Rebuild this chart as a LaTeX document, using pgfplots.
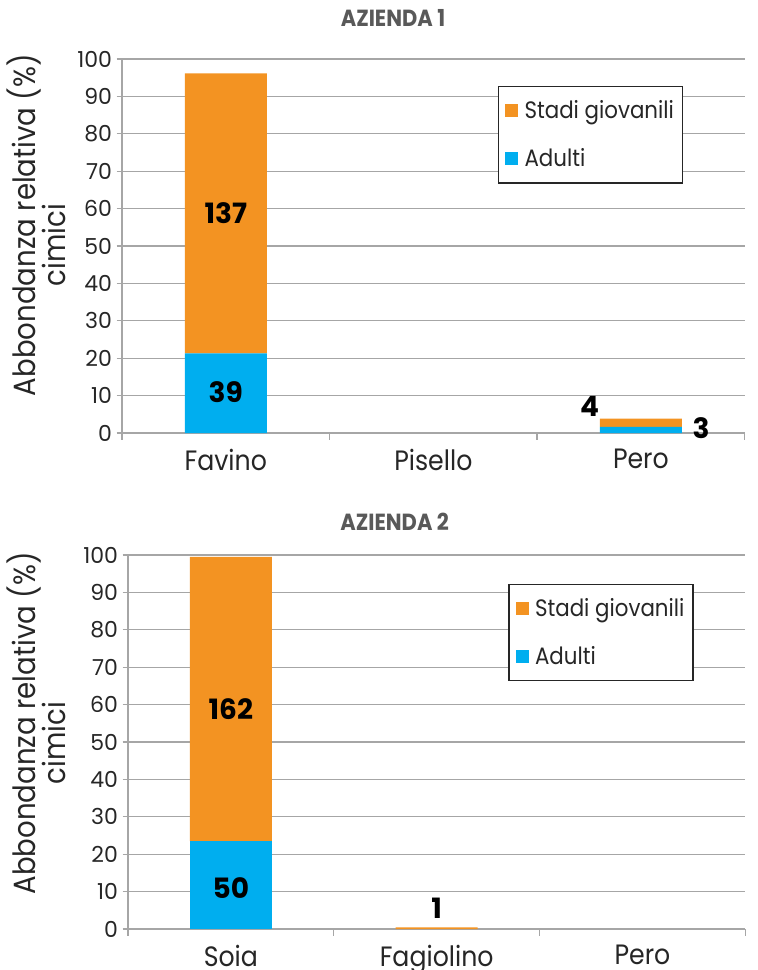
\documentclass[border=0pt]{standalone}
\usepackage{pgfplots}
\pgfplotsset{compat=1.18}
\usepackage{pgfplotstable}
\usepackage{fontspec}
\setmainfont{Poppins}[FakeStretch=0.9]
\newfontfamily\largo{Poppins}

\definecolor{arancio}{HTML}{F39322}
\definecolor{azzurro}{HTML}{00AEEF}
\definecolor{griglia}{HTML}{A6A6A6}
\definecolor{testo}{HTML}{262626}
\definecolor{titolo}{HTML}{595959}

% percentuali (conteggi scritti sulle barre)
\pgfplotstableread{
x adulti giovanili
0 21.31 74.86
1 0 0
2 1.64 2.19
}\aziendaA
\pgfplotstableread{
x adulti giovanili
0 23.47 76.06
1 0 0.47
2 0 0
}\aziendaB

\tikzset{etichetta/.style={font=\largo\bfseries\fontsize{21}{23}\selectfont, text=black}}

\pgfplotsset{
  voce/.style={legend image code/.code={%
    \fill[##1] (0pt,-4.9pt) rectangle (9.75pt,4.9pt);
    \path (13pt,0pt);}},
  cimici/.style={
    scale only axis,
    height=280.5pt,
    ybar stacked, bar width=61.5pt,
    xmin=-0.5, xmax=2.5, ymin=0, ymax=100,
    axis x line*=bottom, axis y line*=left,
    axis line style={griglia, line width=1pt},
    ymajorgrids, grid style={griglia, line width=1pt},
    ytick={0,10,...,100},
    tick align=outside, major tick length=4pt,
    y tick style={griglia, line width=1pt},
    xtick={0,1,2}, major x tick style={draw=none},
    minor xtick={-0.5,0.5,1.5,2.5},
    minor x tick style={griglia, line width=1pt}, minor tick length=5pt,
    /pgf/number format/assume math mode=true,
    ticklabel style={text=testo},
    yticklabel style={font=\largo\fontsize{16.5}{18}\selectfont},
    xticklabel style={font=\fontsize{21}{24}\selectfont, yshift=-4.5pt},
    ylabel={Abbondanza relativa (\%)\\cimici\hspace*{30pt}},
    ylabel style={align=center, anchor=center, text=testo,
      font=\fontsize{23}{20}\selectfont},
    reverse legend,
    legend cell align=left,
    legend style={draw=testo, line width=1.1pt, fill=white,
      font=\fontsize{17.8}{20}\selectfont, text=testo,
      inner xsep=5pt, inner ysep=9pt, row sep=18pt,
      nodes={inner sep=1.5pt}},
    clip=false,
  },
}

\begin{document}
\begin{tikzpicture}
\useasboundingbox (0,0) rectangle (567.75pt,-727.5pt);

\node[font=\bfseries\fontsize{17.5}{19}\selectfont, text=titolo] at (294.75pt,-13.5pt) {AZIENDA 1};
\node[font=\bfseries\fontsize{17.5}{19}\selectfont, text=titolo] at (296pt,-391.5pt) {AZIENDA 2};

\begin{axis}[cimici, width=467pt,
  at={(91.5pt,-324.75pt)}, anchor=south west,
  xticklabels={Favino, Pisello, Pero},
  ylabel style={at={(axis description cs:-0.138,0.556)}},
  legend style={at={(0.6035,0.928)}, anchor=north west}]
\addplot[fill=azzurro, draw=none, voce] table[x=x, y=adulti] {\aziendaA};
\addlegendentry{Adulti}
\addplot[fill=arancio, draw=none, voce] table[x=x, y=giovanili] {\aziendaA};
\addlegendentry{Stadi giovanili}
\coordinate (a137) at (axis cs:0,58.8);
\coordinate (a39) at (axis cs:0,11.0);
\coordinate (a4) at (axis cs:1.753,7.1);
\coordinate (a3) at (axis cs:2.29,1.2);
\end{axis}
\node[etichetta] at (a137) {137};
\node[etichetta] at (a39) {39};
\node[etichetta] at (a4) {4};
\node[etichetta] at (a3) {3};

\begin{axis}[cimici, width=463pt,
  at={(96pt,-696.75pt)}, anchor=south west,
  xticklabels={Soia, Fagiolino, Pero},
  ylabel style={at={(axis description cs:-0.149,0.55)}},
  legend style={at={(0.616,0.923)}, anchor=north west}]
\addplot[fill=azzurro, draw=none, voce] table[x=x, y=adulti] {\aziendaB};
\addlegendentry{Adulti}
\addplot[fill=arancio, draw=none, voce] table[x=x, y=giovanili] {\aziendaB};
\addlegendentry{Stadi giovanili}
\coordinate (b162) at (axis cs:0,58.8);
\coordinate (b50) at (axis cs:0,10.9);
\coordinate (b1) at (axis cs:1.0,5.6);
\end{axis}
\node[etichetta] at (b162) {162};
\node[etichetta] at (b50) {50};
\node[etichetta] at (b1) {1};
\end{tikzpicture}
\end{document}
